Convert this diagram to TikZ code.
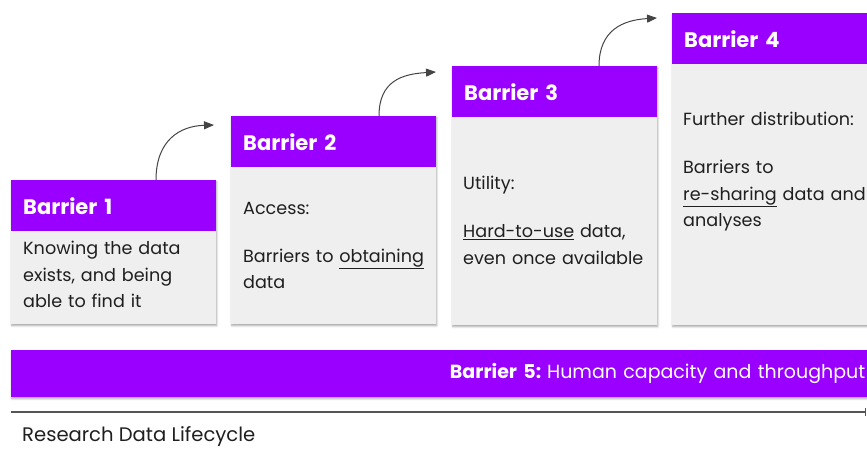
\documentclass[tikz,border=0pt]{standalone}
\usepackage{fontspec}
\setmainfont{Poppins}
\usetikzlibrary{arrows.meta,shadows.blur,calc}
\definecolor{purp}{HTML}{9900FF}
\definecolor{cardgrey}{HTML}{EFEFEF}
\definecolor{arrowgrey}{HTML}{444444}
\definecolor{linegrey}{HTML}{555555}
\begin{document}
\begin{tikzpicture}[x=1pt,y=-1pt,
  shad/.style={blur shadow={shadow xshift=0.5pt,shadow yshift=-1.5pt,shadow blur radius=2pt,shadow opacity=35}},
  card/.style={shad,fill=cardgrey,draw=none,anchor=north west,minimum width=205pt,inner sep=0pt},
  hdr/.style={fill=purp,anchor=north west,minimum width=205pt,minimum height=51pt,inner xsep=12pt,inner ysep=0pt,
    text width=181pt,align=left,text=white,font=\fontsize{21}{24}\selectfont\bfseries},
  bodytext/.style={anchor=north west,inner sep=0pt,text width=190pt,align=left,
    font=\fontsize{17.6}{26.5}\selectfont,text=black!88},
  curvarrow/.style={draw=arrowgrey,line width=1pt,-{Triangle[length=10pt,width=8pt]}},
]
\useasboundingbox (0,0) rectangle (867,448);
\clip (0,0) rectangle (867,448);

% cards
\node[card,minimum height=144pt] (c1) at (11,180) {};
\node[hdr] (h1) at (11,180) {Barrier 1};
\node[bodytext] (t1) at (23,241) {Knowing the data\\exists, and being\\able to find it};

\node[card,minimum height=208pt] (c2) at (231,116) {};
\node[hdr] (h2) at (231,116) {Barrier 2};
\node[bodytext] (t2) at (243,202) {Access:\\[21.5pt]Barriers to \underline{obtaining}\\data};

\node[card,minimum height=259pt] (c3) at (452,66) {};
\node[hdr] (h3) at (452,66) {Barrier 3};
\node[bodytext] (t3) at (463,176) {Utility:\\[21.5pt]\underline{Hard-to-use} data,\\even once available};

\node[card,minimum height=312pt] (c4) at (672,13) {};
\node[hdr] (h4) at (672,13) {Barrier 4};
\node[bodytext] (t4) at (683,112) {Further distribution:\\[21.5pt]Barriers to\\\underline{re-sharing} data and\\analyses};

% barrier 5
\node[shad,fill=purp,anchor=north west,minimum width=856pt,minimum height=47pt,inner xsep=2pt,
  text width=852pt,align=right,text=white,font=\fontsize{19}{24}\selectfont] (b5) at (11,350)
  {\raisebox{-1.5pt}{\textbf{Barrier 5:}\hspace{6pt}Human capacity and throughput}};

% step arrows
\coordinate (s1) at ($(h1.north west)+(145,0)$);
\coordinate (e1) at ($(h2.north west)+(-17,9)$);
\coordinate (s2) at ($(h2.north west)+(148,0)$);
\coordinate (e2) at ($(h3.north west)+(-16,6)$);
\coordinate (s3) at ($(h3.north west)+(147,0)$);
\coordinate (e3) at ($(h4.north west)+(-15,5)$);
\draw[curvarrow] (s1) .. controls +(0,-40) and +(-34,1) .. (e1);
\draw[curvarrow] (s2) .. controls +(0,-35) and +(-34,2) .. (e2);
\draw[curvarrow] (s3) .. controls +(0,-36) and +(-34,2) .. (e3);

% timeline
\coordinate (l0) at (11,412);
\coordinate (l1) at (866,412);
\draw[line width=1.5pt,draw=linegrey,-{Bar[width=8pt]}] (l0) -- (l1);
\node[anchor=base west,inner sep=0pt,font=\fontsize{19.6}{24}\selectfont,text=black!88] (lbl) at (22,441.5) {Research Data Lifecycle};
\end{tikzpicture}
\end{document}
